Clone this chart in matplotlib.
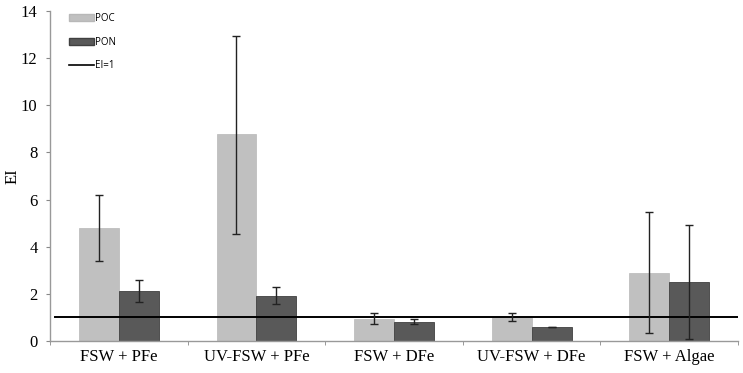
import matplotlib
matplotlib.use("Agg")
import matplotlib.pyplot as plt
import numpy as np
from matplotlib.patches import Patch
from matplotlib.lines import Line2D

categories = ["FSW + PFe", "UV-FSW + PFe", "FSW + DFe", "UV-FSW + DFe", "FSW + Algae"]
poc = [4.80, 8.80, 0.95, 1.02, 2.89]
poc_err_hi = [6.20, 12.95, 1.19, 1.19, 5.45]
poc_err_lo = [3.38, 4.53, 0.74, 0.84, 0.36]
pon = [2.11, 1.91, 0.81, 0.60, 2.51]
pon_err_hi = [2.59, 2.27, 0.95, 0.61, 4.92]
pon_err_lo = [1.66, 1.57, 0.70, 0.59, 0.07]
ei_ref = 1
yticks = [0, 2, 4, 6, 8, 10, 12, 14]

fig = plt.figure(figsize=(7.43, 3.73), dpi=100)
ax = fig.add_axes([0.0673, 0.0858, 0.926, 0.885])

x = np.arange(len(categories))
w = 0.29
poc_a = np.array(poc); pon_a = np.array(pon)
ax.bar(x - w/2, poc_a, w, color="#c0c0c0", edgecolor="#b8b8b8", linewidth=0.5, zorder=2)
ax.bar(x + w/2, pon_a, w, color="#595959", edgecolor="#404040", linewidth=0.6, zorder=2)

ekw = dict(fmt="none", ecolor="#222222", elinewidth=1.0, capsize=3.0, capthick=1.0, zorder=4)
ax.errorbar(x - w/2, poc_a, yerr=[poc_a - np.array(poc_err_lo), np.array(poc_err_hi) - poc_a], **ekw)
ax.errorbar(x + w/2, pon_a, yerr=[pon_a - np.array(pon_err_lo), np.array(pon_err_hi) - pon_a], **ekw)

ax.axhline(ei_ref, xmin=0.007, xmax=1.0, color="black", linewidth=1.4, zorder=3)

ax.set_xlim(-0.5, len(categories) - 0.5)
ax.set_ylim(0, 14)
ax.set_yticks(yticks)
ax.set_xticks(x)
ax.set_xticklabels(categories)
ax.set_xticks(np.arange(len(categories) + 1) - 0.5, minor=True)
ax.tick_params(axis="x", which="major", length=0, pad=6)
ax.tick_params(axis="x", which="minor", length=3, color="#888888", direction="out")
ax.tick_params(axis="y", length=3, color="#888888", direction="out", pad=6)
for lab in ax.get_xticklabels() + ax.get_yticklabels():
    lab.set_fontfamily("Liberation Serif")
    lab.set_fontsize(12)
ax.set_ylabel("EI", fontfamily="Liberation Serif", fontsize=12)
ax.yaxis.set_label_coords(-0.043, 0.5)

for s in ["top", "right"]:
    ax.spines[s].set_visible(False)
for s in ["left", "bottom"]:
    ax.spines[s].set_color("#999999")
    ax.spines[s].set_linewidth(1.0)

handles = [Patch(facecolor="#c0c0c0", edgecolor="#b8b8b8"),
           Patch(facecolor="#595959", edgecolor="#404040"),
           Line2D([0], [0], color="black", linewidth=1.2)]
leg = ax.legend(handles, ["POC", "PON", "EI=1"], loc="upper left", bbox_to_anchor=(0.015, 1.02),
                frameon=False, prop={"family": "Open Sans", "size": 7},
                handlelength=2.6, handleheight=0.8, handletextpad=0.1, labelspacing=1.3)

fig.savefig("out.png", dpi=100)
